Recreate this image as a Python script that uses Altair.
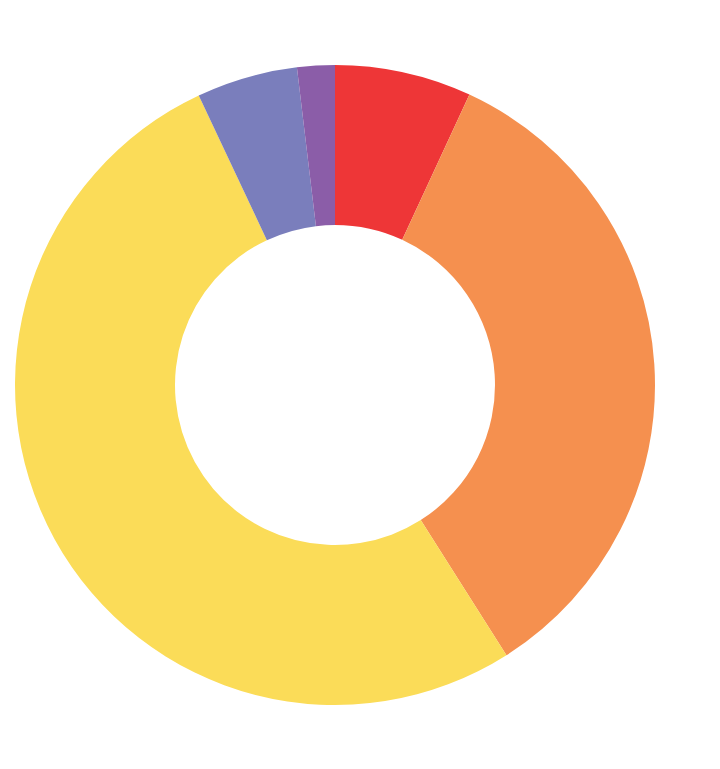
import altair as alt
import pandas as pd

categories = ["A", "B", "C", "D", "E"]
values = [6.9, 34.1, 52.0, 5.1, 1.9]
colors = ["#EE3637", "#F5904F", "#FBDC58", "#7A7EBC", "#8B5DA8"]
order = [0, 1, 2, 3, 4]

df = pd.DataFrame({"category": categories, "value": values, "order": order})

chart = (
    alt.Chart(df)
    .mark_arc(outerRadius=320, innerRadius=160, stroke=None)
    .encode(
        theta=alt.Theta("value:Q", stack=True),
        order=alt.Order("order:Q"),
        color=alt.Color(
            "category:N",
            scale=alt.Scale(domain=categories, range=colors),
            legend=None,
        ),
        x=alt.value(327),
        y=alt.value(377),
    )
    .properties(
        width=704,
        height=753,
        padding=0,
        background="white",
        autosize=alt.AutoSizeParams(type="none"),
    )
    .configure_view(stroke=None, strokeWidth=0)
)

chart.save("out.html", embed_options={"renderer": "svg", "actions": False})
